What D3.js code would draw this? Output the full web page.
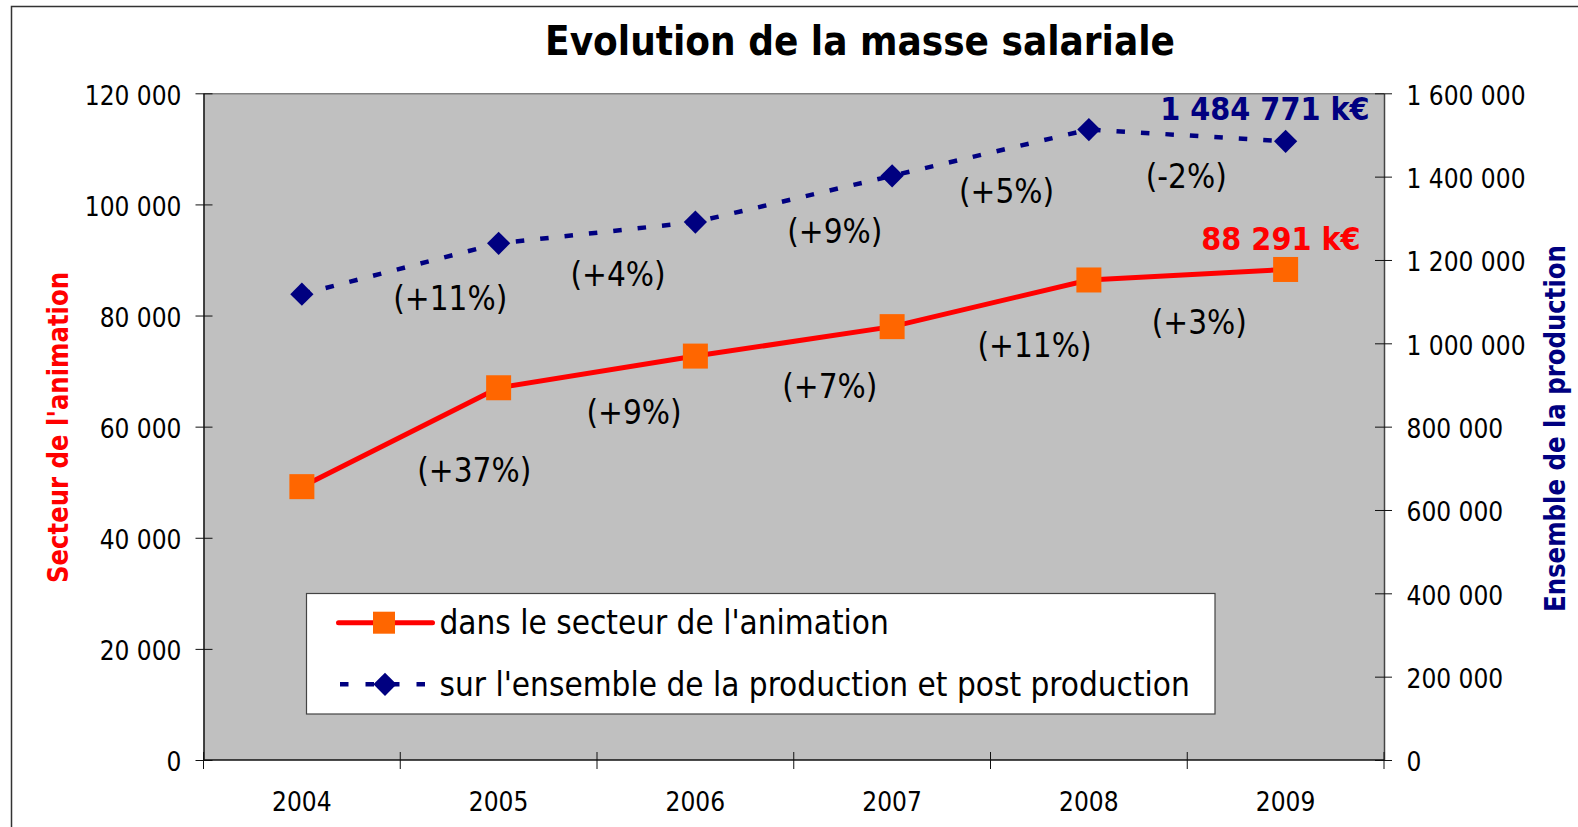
<!DOCTYPE html>
<html lang="fr">
  <head>
    <meta charset="UTF-8" />
    <title>Evolution de la masse salariale</title>
    <script src="https://d3js.org/d3.v7.min.js"></script>
    <style>
      body {
        margin: 0;
        background: #fff;
      }
      svg text {
        font-family: "DejaVu Sans Condensed", "DejaVu Sans", sans-serif;
        font-stretch: condensed;
      }
    </style>
  </head>
  <body>
    <div id="chart"></div>
    <script>
      // data (k€)
      const years = ["2004", "2005", "2006", "2007", "2008", "2009"];
      const animation = [49200, 67000, 72700, 78000, 86400, 88291];
      const production = [1118000, 1240000, 1291000, 1402000, 1513000, 1484771];
      const animationPct = ["(+37%)", "(+9%)", "(+7%)", "(+11%)", "(+3%)"];
      const productionPct = ["(+11%)", "(+4%)", "(+9%)", "(+5%)", "(-2%)"];
      const leftTicks = [0, 20000, 40000, 60000, 80000, 100000, 120000];
      const rightTicks = [0, 200000, 400000, 600000, 800000, 1000000, 1200000, 1400000, 1600000];
      const seriesNames = [
        "dans le secteur de l'animation",
        "sur l'ensemble de la production et post production",
      ];

      // where each % label sits relative to its segment middle
      const animationNudge = [[74, 33], [37, 41], [36, 45], [44, 42], [12, 48]];
      const productionNudge = [[50, 30], [21, 42], [41, 33], [16, 39], [-1, 41]];

      const W = 1578, H = 827;
      const margin = { top: 93.3, left: 203.5 };
      const width = 1180.5, height = 666.7;

      const locale = d3.formatLocale({ decimal: ",", thousands: " ", grouping: [3], currency: ["", " €"] });
      const fmt = locale.format(",d");

      const svg = d3.select("#chart").append("svg").attr("width", W).attr("height", H);

      // outer frame
      svg.append("rect")
        .attr("x", 11.5).attr("y", 6.5)
        .attr("width", W + 50).attr("height", H + 50)
        .attr("fill", "none").attr("stroke", "#333").attr("stroke-width", 1.5);

      svg.append("text")
        .attr("x", 860).attr("y", 55)
        .attr("text-anchor", "middle")
        .style("font-size", "40px").style("font-weight", "bold")
        .text("Evolution de la masse salariale");

      const g = svg.append("g").attr("transform", `translate(${margin.left},${margin.top})`);

      const x = d3.scaleBand().domain(years).range([0, width]);
      const cx = (d) => x(d) + x.bandwidth() / 2;
      const yL = d3.scaleLinear().domain([0, 120000]).range([height, 0]);
      const yR = d3.scaleLinear().domain([0, 1600000]).range([height, 0]);

      g.append("rect")
        .attr("width", width).attr("height", height)
        .attr("fill", "#c0c0c0");
      g.append("line")
        .attr("x1", 0).attr("x2", width).attr("y1", 0.5).attr("y2", 0.5)
        .attr("stroke", "#808080").attr("stroke-width", 1.5);

      // left axis
      const axL = g.append("g").call(d3.axisLeft(yL).tickValues(leftTicks).tickFormat(fmt).tickSize(8).tickSizeOuter(0));
      axL.select(".domain").attr("stroke", "#111").attr("stroke-width", 1.5);
      axL.selectAll(".tick line").attr("x1", 9).attr("stroke", "#111");
      axL.selectAll(".tick text").attr("x", -22).attr("dy", "0.42em").style("font-size", "26px").attr("fill", "#000");

      // right axis
      const axR = g.append("g").attr("transform", `translate(${width},0)`)
        .call(d3.axisRight(yR).tickValues(rightTicks).tickFormat(fmt).tickSize(8).tickSizeOuter(0));
      axR.select(".domain").attr("stroke", "#444").attr("stroke-width", 1.5);
      axR.selectAll(".tick line").attr("x1", -9).attr("stroke", "#111");
      axR.selectAll(".tick text").attr("x", 22.5).attr("dy", "0.42em").style("font-size", "26px").attr("fill", "#000");

      // bottom axis: ticks between categories
      g.append("line")
        .attr("x1", 0).attr("x2", width).attr("y1", height).attr("y2", height)
        .attr("stroke", "#111").attr("stroke-width", 1.5);
      g.selectAll("line.xtick")
        .data(years.concat(["end"]))
        .enter().append("line")
        .attr("class", "xtick")
        .attr("x1", (d, i) => (i < years.length ? x(d) : width))
        .attr("x2", (d, i) => (i < years.length ? x(d) : width))
        .attr("y1", height - 8).attr("y2", height + 9)
        .attr("stroke", "#111");
      g.selectAll("text.xlab")
        .data(years)
        .enter().append("text")
        .attr("class", "xlab")
        .attr("x", cx).attr("y", height + 51)
        .attr("text-anchor", "middle")
        .style("font-size", "26px")
        .text((d) => d);

      // axis titles
      svg.append("text")
        .attr("transform", "translate(68,427.5) rotate(-90)")
        .attr("text-anchor", "middle")
        .attr("textLength", 311).attr("lengthAdjust", "spacingAndGlyphs")
        .style("font-size", "29px").style("font-weight", "bold")
        .attr("fill", "#ff0000")
        .text("Secteur de l'animation");
      svg.append("text")
        .attr("transform", "translate(1565,428.5) rotate(-90)")
        .attr("text-anchor", "middle")
        .attr("textLength", 367).attr("lengthAdjust", "spacingAndGlyphs")
        .style("font-size", "29px").style("font-weight", "bold")
        .attr("fill", "#000080")
        .text("Ensemble de la production");

      // production series (right axis)
      const lineR = d3.line().x((d, i) => cx(years[i])).y((d) => yR(d));
      g.append("path")
        .datum(production)
        .attr("fill", "none")
        .attr("stroke", "#000080").attr("stroke-width", 4.5)
        .attr("stroke-dasharray", "8.5,16")
        .attr("d", lineR);
      g.selectAll("path.diam")
        .data(production)
        .enter().append("path")
        .attr("class", "diam")
        .attr("transform", (d, i) => `translate(${cx(years[i])},${yR(d)}) rotate(45)`)
        .attr("d", d3.symbol().type(d3.symbolSquare).size(270))
        .attr("fill", "#000080");

      // animation series (left axis)
      const lineL = d3.line().x((d, i) => cx(years[i])).y((d) => yL(d));
      g.append("path")
        .datum(animation)
        .attr("fill", "none")
        .attr("stroke", "#ff0000").attr("stroke-width", 5)
        .attr("stroke-linejoin", "round")
        .attr("d", lineL);
      g.selectAll("rect.sq")
        .data(animation)
        .enter().append("rect")
        .attr("class", "sq")
        .attr("x", (d, i) => cx(years[i]) - 12.5)
        .attr("y", (d) => yL(d) - 12.5)
        .attr("width", 25).attr("height", 25)
        .attr("fill", "#ff6600");

      // growth labels
      const segLabels = (values, scale, labels, nudge) =>
        g.selectAll(null)
          .data(labels)
          .enter().append("text")
          .attr("x", (d, i) => (cx(years[i]) + cx(years[i + 1])) / 2 + nudge[i][0])
          .attr("y", (d, i) => (scale(values[i]) + scale(values[i + 1])) / 2 + nudge[i][1])
          .attr("dy", "0.35em")
          .attr("text-anchor", "middle")
          .style("font-size", "33px")
          .text((d) => d);
      segLabels(animation, yL, animationPct, animationNudge);
      segLabels(production, yR, productionPct, productionNudge);

      // last value labels
      const last = years.length - 1;
      g.append("text")
        .attr("x", cx(years[last]) + 75).attr("y", yL(animation[last]) - 19)
        .attr("text-anchor", "end")
        .style("font-size", "32px").style("font-weight", "bold")
        .attr("fill", "#ff0000")
        .text(fmt(animation[last]) + " k€");
      g.append("text")
        .attr("x", cx(years[last]) + 84).attr("y", yR(production[last]) - 21.6)
        .attr("text-anchor", "end")
        .style("font-size", "32px").style("font-weight", "bold")
        .attr("fill", "#000080")
        .text(fmt(production[last]) + " k€");

      // legend
      const lg = svg.append("g").attr("transform", "translate(306.5,593.5)");
      lg.append("rect")
        .attr("width", 908.5).attr("height", 120.5)
        .attr("fill", "#fff").attr("stroke", "#444").attr("stroke-width", 1.2);
      lg.append("line")
        .attr("x1", 32).attr("x2", 126).attr("y1", 29.2).attr("y2", 29.2)
        .attr("stroke", "#ff0000").attr("stroke-width", 5).attr("stroke-linecap", "round");
      lg.append("rect")
        .attr("x", 77.5 - 11).attr("y", 29.2 - 11).attr("width", 22).attr("height", 22)
        .attr("fill", "#ff6600");
      lg.append("line")
        .attr("x1", 33.5).attr("x2", 120).attr("y1", 90.8).attr("y2", 90.8)
        .attr("stroke", "#000080").attr("stroke-width", 4.5).attr("stroke-dasharray", "8.5,17");
      lg.append("path")
        .attr("transform", "translate(78.5,90.8) rotate(45)")
        .attr("d", d3.symbol().type(d3.symbolSquare).size(270))
        .attr("fill", "#000080");
      lg.selectAll("text")
        .data(seriesNames)
        .enter().append("text")
        .attr("x", 133).attr("y", (d, i) => 29.2 + i * 61.6)
        .attr("dy", "0.35em")
        .style("font-size", "33px")
        .text((d) => d);
    </script>
  </body>
</html>
